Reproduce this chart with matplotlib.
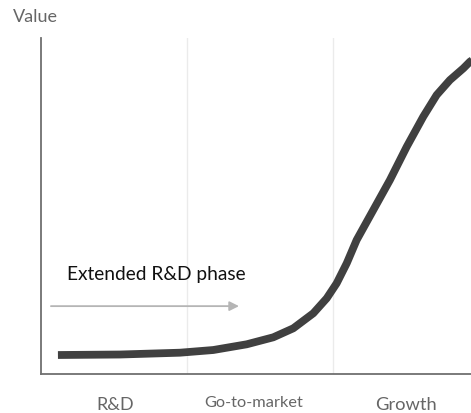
import matplotlib
matplotlib.use("Agg")
import matplotlib.pyplot as plt

# value curve (x in phase units, y in 0-100)
curve_x = [0.116, 0.541, 0.952, 1.180, 1.409, 1.591, 1.728, 1.865, 1.957,
           2.025, 2.094, 2.162, 2.276, 2.390, 2.505, 2.618, 2.710, 2.801,
           2.893, 2.938, 3.007]
curve_y = [5.65, 5.80, 6.34, 7.14, 8.84, 10.92, 13.60, 18.07, 22.53,
           26.99, 32.95, 39.88, 48.81, 57.74, 67.65, 76.58, 83.04, 87.50,
           90.98, 92.95, 95.0]

phases = ['R&D', 'Go-to-market', 'Growth']
phase_pos = [0.507, 1.457, 2.499]
phase_size = [13, 11.8, 13.2]
phase_base = [-10.6, -9.75, -10.7]

plt.rcParams['font.family'] = ['Lato', 'DejaVu Sans']

fig = plt.figure(figsize=(4.71, 4.13), dpi=100)
ax = fig.add_axes([41 / 471, 1 - 374 / 413, 438 / 471, 336 / 413])

ax.set_xlim(0, 3)
ax.set_ylim(0, 100)

for gx in [1, 2]:
    ax.axvline(gx, color='#ebebeb', lw=1, zorder=0)

ax.plot(curve_x, curve_y, color='#404040', lw=5.6, solid_capstyle='butt',
        solid_joinstyle='round', clip_on=False, zorder=3)

ax.annotate('', xy=(1.356, 20.2), xytext=(0.068, 20.2),
            arrowprops=dict(arrowstyle='-|>', color='#b5b5b5', lw=1.3,
                            mutation_scale=14, shrinkA=0, shrinkB=0))
ax.text(0.176, 28.0, 'Extended R&D phase', fontsize=13.8, color='#111111',
        va='baseline', ha='left')

for lbl, px, fs, yb in zip(phases, phase_pos, phase_size, phase_base):
    ax.text(px, yb, lbl, fontsize=fs, color='#666666', ha='center',
            va='baseline', clip_on=False)

fig.text(13 / 471, 1 - 22 / 413, 'Value', fontsize=13, color='#666666',
         ha='left', va='baseline')

ax.set_xticks([])
ax.set_yticks([])
for s in ['top', 'right']:
    ax.spines[s].set_visible(False)
for s in ['left', 'bottom']:
    ax.spines[s].set_color('#707070')
    ax.spines[s].set_linewidth(1.3)

fig.savefig('out.png', dpi=100)
